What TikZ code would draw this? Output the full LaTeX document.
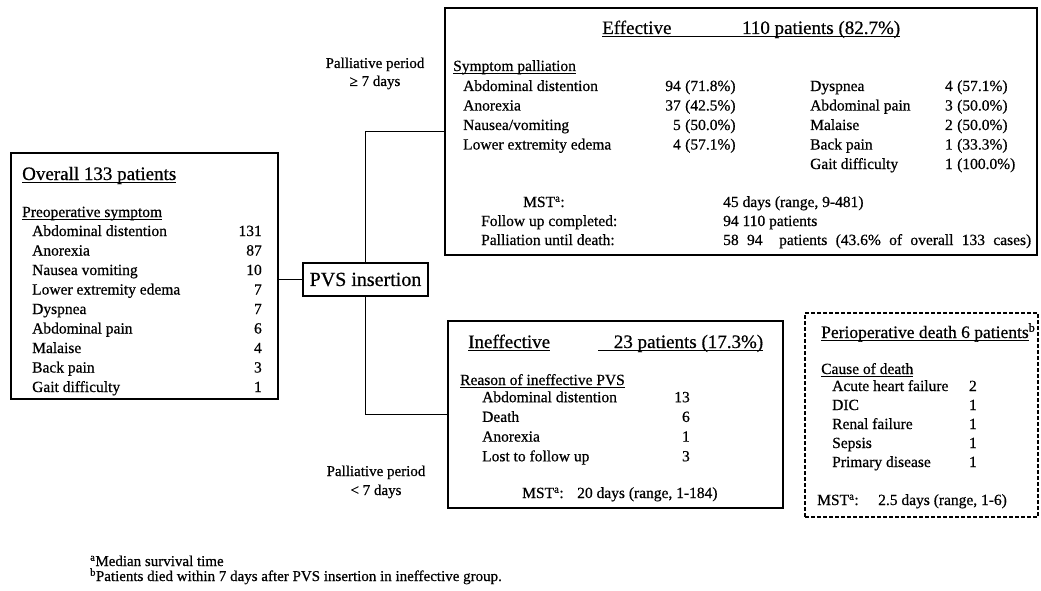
\documentclass[tikz,border=0pt]{standalone}
\usepackage{fontspec}
\setmainfont{Liberation Serif}[FakeBold=0.6]
\newsavebox\myulbox
\newcommand\myul[1]{\sbox\myulbox{#1}\rlap{\rule[-2.6pt]{\wd\myulbox}{1pt}}\usebox\myulbox}
\begin{document}
\begin{tikzpicture}[x=1pt,y=-1pt,
  box/.style={draw, line width=1.8pt, inner sep=0pt, outer sep=0pt, anchor=north west},
  dbox/.style={box, dash pattern=on 4pt off 2pt},
  link/.style={draw, line width=1.6pt},
  t/.style={anchor=base west, inner sep=0pt, font=\fontsize{15.5}{18}\selectfont},
  n/.style={anchor=base east, inner sep=0pt, font=\fontsize{15.5}{18}\selectfont},
  c/.style={anchor=base, inner sep=0pt, font=\fontsize{15}{18}\selectfont},
  ttl/.style={anchor=base west, inner sep=0pt, font=\fontsize{19}{22}\selectfont},
  fn/.style={anchor=base west, inner sep=0pt, font=\fontsize{15}{17}\selectfont}]
\useasboundingbox (0,0) rectangle (1041,591);

% boxes
\node[box, minimum width=267, minimum height=246] (overall) at (11,153) {};
\node[box, minimum width=125, minimum height=33, font=\fontsize{20}{22}\selectfont] (pvs) at (303,263) {PVS insertion};
\node[box, minimum width=592, minimum height=247] (eff) at (445,8) {};
\node[box, minimum width=335, minimum height=187] (ineff) at (448,321) {};
\node[dbox, minimum width=233, minimum height=204] (peri) at (805,313) {};

% connectors
\draw[link] (pvs.west) -- (pvs.west -| overall.east);
\draw[link] (pvs.north) |- (eff.west);
\draw[link] (pvs.south) |- (ineff.west);

% overall box
\node[ttl] (ovt) at (22,180) {\myul{Overall 133 patients}};
\node[t] (ovs) at (22,217) {\myul{Preoperative symptom}};
\foreach [count=\i] \a/\b in {Abdominal distention/131, Anorexia/87, Nausea vomiting/10, Lower extremity edema/7, Dyspnea/7, Abdominal pain/6, Malaise/4, Back pain/3, Gait difficulty/1} {
  \node[t] (ovr\i) at (32,216.5+19.5*\i) {\a};
  \node[n] (ovn\i) at (262,216.5+19.5*\i) {\b};
}

% effective box
\node[ttl] (efft) at (602,34) {\myul{\makebox[298pt][l]{Effective\hfill 110 patients (82.7\%)}}};
\node[t] (effs) at (453,71) {\myul{Symptom palliation}};
\foreach [count=\i] \a/\b/\p in {Abdominal distention/94/71.8, Anorexia/37/42.5, Nausea\slash vomiting/5/50.0, Lower extremity edema/4/57.1} {
  \node[t] (efl\i) at (463,71.5+19.5*\i) {\a};
  \node[n] (efln\i) at (681,71.5+19.5*\i) {\b};
  \node[t] (eflp\i) at (685,71.5+19.5*\i) {(\p\%)};
}
\foreach [count=\i] \a/\b/\p in {Dyspnea/4/57.1, Abdominal pain/3/50.0, Malaise/2/50.0, Back pain/1/33.3, Gait difficulty/1/100.0} {
  \node[t] (efr\i) at (810,71.5+19.5*\i) {\a};
  \node[n] (efrn\i) at (953,71.5+19.5*\i) {\b};
  \node[t] (efrp\i) at (957,71.5+19.5*\i) {(\p\%)};
}
\node[t] (msta) at (523,207) {MST\textsuperscript{a}:};
\node[t] (fuc) at (481,226) {Follow up completed:};
\node[t] (pud) at (481,245) {Palliation until death:};
\node[t] (mstav) at (723,207) {45 days (range, 9-481)};
\node[t] (fucv) at (723,226) {94 110 patients};
\node[t] (pudv) at (723,245) {\makebox[308pt][s]{58 94\ \ patients (43.6\% of overall 133 cases)}};

% ineffective box
\node[ttl] (inet) at (468,348) {\myul{Ineffective}};
\node[ttl] (inep) at (598,348) {\myul{\makebox[165pt][r]{23 patients (17.3\%)}}};
\node[t] (iner) at (460,385) {\myul{Reason of ineffective PVS}};
\foreach [count=\i] \a/\b in {Abdominal distention/13, Death/6, Anorexia/1, Lost to follow up/3} {
  \node[t] (inr\i) at (482,382.5+19.7*\i) {\a};
  \node[n] (inn\i) at (690,382.5+19.7*\i) {\b};
}
\node[t] (inm) at (522,498) {MST\textsuperscript{a}:};
\node[t] (inmv) at (577,498) {20 days (range, 1-184)};

% perioperative box
\node[anchor=base west, inner sep=0pt, font=\fontsize{17.5}{20}\selectfont] (pert) at (821,338) {\myul{Perioperative death 6 patients}\textsuperscript{b}};
\node[t] (perc) at (821,374) {\myul{Cause of death}};
\foreach [count=\i] \a/\b in {Acute heart failure/2, DIC/1, Renal failure/1, Sepsis/1, Primary disease/1} {
  \node[t] (perr\i) at (832,372+19*\i) {\a};
  \node[n] (pern\i) at (977,372+19*\i) {\b};
}
\node[t] (perm) at (817,505) {MST\textsuperscript{a}:};
\node[t] (permv) at (878,505) {2.5 days (range, 1-6)};

% palliative period labels
\node[c] (pl1) at (375,68) {Palliative period};
\node[c] (pl2) at (375,86) {≥ 7 days};
\node[c] (pl3) at (376,476) {Palliative period};
\node[c] (pl4) at (376,495) {< 7 days};

% footnotes
\node[fn] (fa) at (90,566) {\textsuperscript{a}Median survival time};
\node[fn] (fb) at (90,581) {\textsuperscript{b}Patients died within 7 days after PVS insertion in ineffective group.};
\end{tikzpicture}
\end{document}
